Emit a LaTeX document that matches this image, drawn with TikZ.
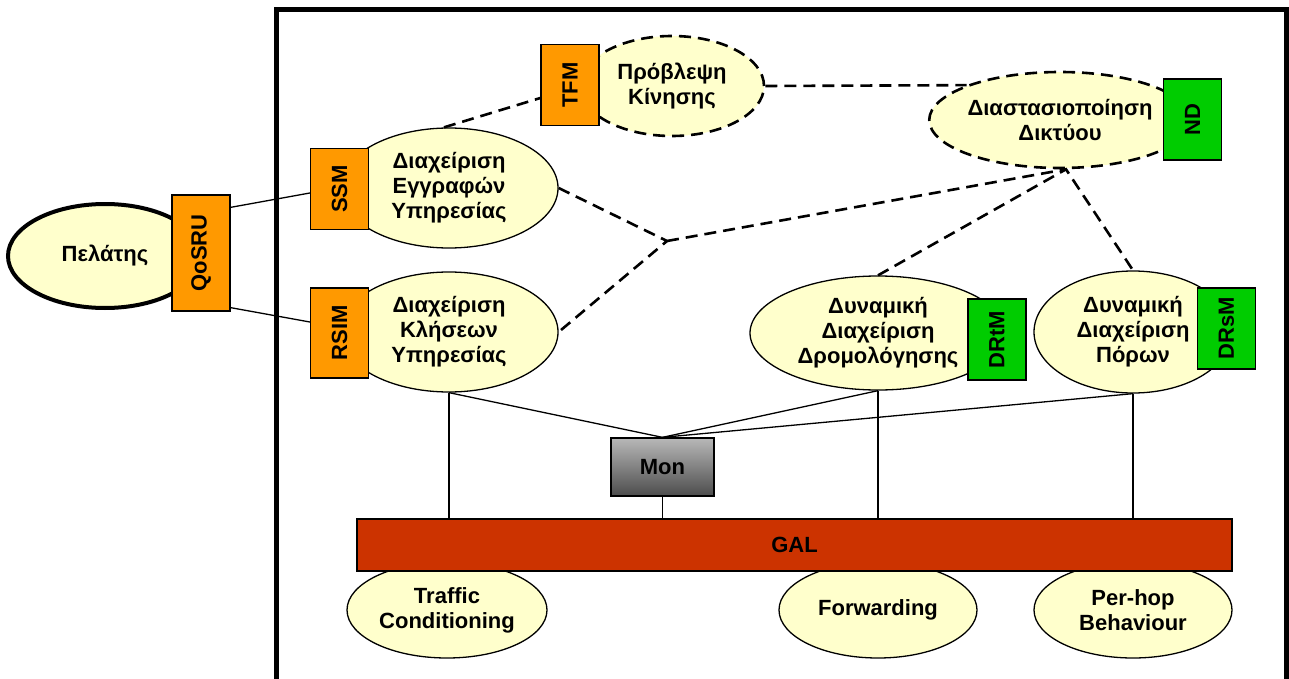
\documentclass[tikz,border=0pt]{standalone}
\usepackage{fontspec}
\setmainfont{Liberation Sans}
\usetikzlibrary{shapes.geometric, positioning, calc}

\definecolor{paleyellow}{HTML}{FFFFCC}
\definecolor{tagorange}{HTML}{FF9900}
\definecolor{taggreen}{HTML}{00CC00}
\definecolor{galred}{HTML}{CC3300}

\begin{document}
\begin{tikzpicture}[
    x=1pt, y=-1pt,
    every node/.style={font=\bfseries\fontsize{22}{25}\selectfont, inner sep=0pt},
    func/.style={ellipse, draw, line width=1.3pt, fill=paleyellow, align=center},
    planfunc/.style={func, line width=2.6pt, dash pattern=on 12pt off 7pt},
    tag/.style={rectangle, draw, line width=1.3pt, minimum width=58pt, minimum height=81pt},
    link/.style={line width=1.3pt},
    plan/.style={line width=2.6pt, dash pattern=on 12pt off 7pt}
]
\useasboundingbox (0,0) rectangle (1289,679);

% Frame of the network node
\draw[line width=5pt] (276,679) -- (276,10) -- (1286,10) -- (1286,679);

% Client side
\node[func, line width=4pt, minimum width=194pt, minimum height=104pt] (client) at (105,256) {Πελάτης};
\node[tag, fill=tagorange, minimum height=116pt] (qosru) at (201,253) {\rotatebox{90}{QoSRU}};

% Service management functions
\node[func, minimum width=218pt, minimum height=120pt] (ssmE) at (449,188) {Διαχείριση\\Εγγραφών\\Υπηρεσίας};
\node[tag, fill=tagorange] (ssm) at (339.5,189) {\rotatebox{90}{SSM}};
\node[func, minimum width=218pt, minimum height=120pt] (rsimE) at (449,332) {Διαχείριση\\Κλήσεων\\Υπηρεσίας};
\node[tag, fill=tagorange, minimum height=90pt] (rsim) at (339.5,333) {\rotatebox{90}{RSIM}};

% Planning functions
\node[planfunc, minimum width=184pt, minimum height=100pt] (tfmE) at (672,86) {Πρόβλεψη\\Κίνησης};
\node[tag, fill=tagorange] (tfm) at (570,85) {\rotatebox{90}{TFM}};
\node[planfunc, minimum width=254pt, minimum height=96pt] (ndE) at (1060,120) {Διαστασιοποίηση\\Δικτύου};
\node[tag, fill=taggreen] (nd) at (1192.5,119.5) {\rotatebox{90}{ND}};

% Dynamic management functions
\node[func, minimum width=256pt, minimum height=114pt] (drtmE) at (878,333) {Δυναμική\\Διαχείριση\\Δρομολόγησης};
\node[tag, fill=taggreen] (drtm) at (997,339.5) {\rotatebox{90}{DRtM}};
\node[func, minimum width=198pt, minimum height=122pt] (drsmE) at (1133,332) {Δυναμική\\Διαχείριση\\Πόρων};
\node[tag, fill=taggreen] (drsm) at (1226.5,328.5) {\rotatebox{90}{DRsM}};

% Monitoring
\node[draw, line width=1.3pt, top color=black!28, bottom color=black!70, minimum width=103pt, minimum height=58pt] (mon) at (662.5,467) {Mon};

% Data plane under the GAL
\node[func, minimum width=200pt, minimum height=96pt] (tc) at (447,610) {Traffic\\Conditioning};
\node[func, minimum width=198pt, minimum height=96pt] (fwd) at (878,610) {Forwarding};
\node[func, minimum width=198pt, minimum height=96pt] (phb) at (1133,610) {Per-hop\\Behaviour};
\node[draw, line width=1.3pt, fill=galred, minimum width=875pt, minimum height=52pt] (gal) at (794.5,545) {GAL};

% Client links
\draw[link] ([yshift=-13pt]qosru.north east) -- ([yshift=-4pt]ssm.west);
\draw[link] ([yshift=4pt]qosru.south east) -- ([yshift=11pt]rsim.west);

% Planning links
\coordinate (hub) at (667,241);
\coordinate (ndfoot) at ([xshift=6pt]ndE.south);
\draw[plan] ([xshift=-5pt]ssmE.north) -- ([yshift=-13pt]tfm.west);
\draw[plan] (tfmE.east) -- (ndE.north west);
\draw[plan] (ssmE.east) -- (hub) -- (rsimE.east);
\draw[plan] (hub) -- (ndfoot);
\draw[plan] (drtmE.north) -- (ndfoot) -- (drsmE.north);

% Monitoring and GAL links
\draw[link] (rsimE.south) -- (mon.north);
\draw[link] (drtmE.south) -- (mon.north);
\draw[link] (drsmE.south) -- (mon.north);
\foreach \n in {rsimE, mon, drtmE, drsmE}
    \draw[link] (\n.south) -- (\n.south |- gal.north);

\end{tikzpicture}
\end{document}
